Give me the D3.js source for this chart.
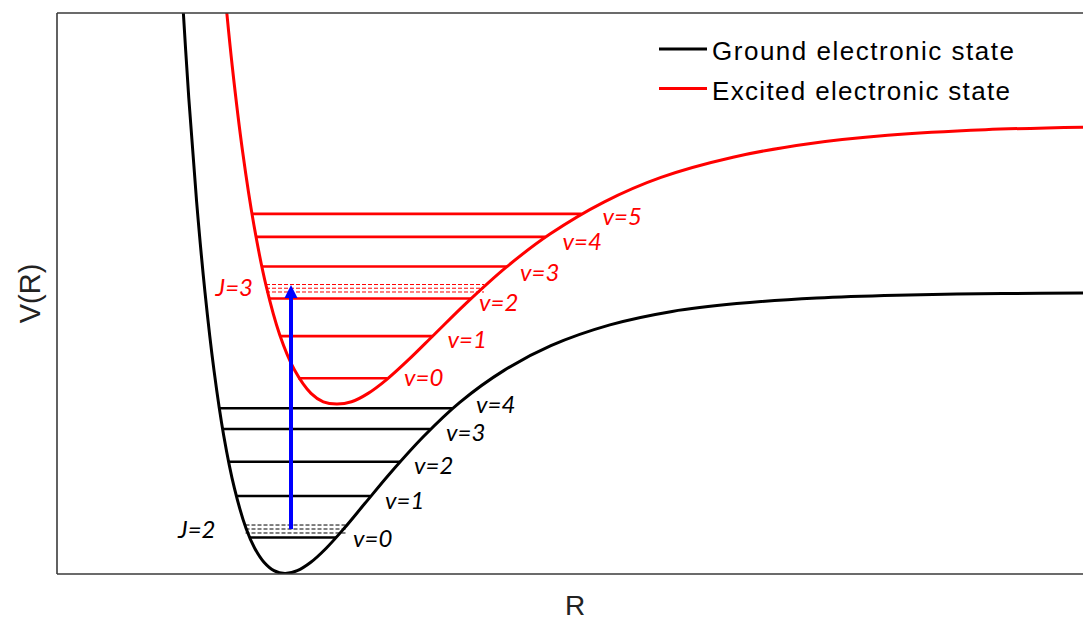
<!DOCTYPE html>
<html><head><meta charset="utf-8">
<script src="https://cdn.jsdelivr.net/npm/d3@7"></script>
<style>
html,body{margin:0;padding:0;background:#fff;}
svg{display:block;}
</style>
</head><body>
<svg id="chart" width="1083" height="622"></svg>
<script>
// ---- data (R and V in arbitrary units) ----
const groundR = [1.245, 1.318, 1.396, 1.480, 1.570, 1.667, 1.774, 1.891, 1.977, 2.070, 2.170, 2.280, 2.402, 2.538, 2.692, 2.870, 3.080, 3.338, 3.670, 4.028, 4.471, 4.939, 5.529, 6.151, 6.797, 7.598, 8.398, 9.456, 10.40];
const groundV = [10.54, 8.48, 6.64, 5.02, 3.63, 2.47, 1.53, 0.81, 0.46, 0.21, 0.06, 0.01, 0.06, 0.21, 0.46, 0.81, 1.26, 1.81, 2.46, 3.06, 3.63, 4.07, 4.44, 4.68, 4.82, 4.92, 4.97, 5.00, 5.01];

const excitedR = [1.674, 1.752, 1.856, 1.969, 2.092, 2.226, 2.374, 2.540, 2.663, 2.797, 2.945, 3.111, 3.299, 3.516, 3.773, 4.088, 4.493, 4.930, 5.469, 6.040, 6.760, 7.519, 8.307, 9.283, 10.40];
const excitedV = [10.45, 9.06, 7.53, 6.22, 5.13, 4.27, 3.64, 3.22, 3.07, 3.03, 3.07, 3.22, 3.47, 3.82, 4.27, 4.82, 5.47, 6.06, 6.63, 7.07, 7.43, 7.67, 7.82, 7.92, 7.97];

const groundLevelV  = [0.65, 1.39, 2.00, 2.585, 2.955];
const groundLevelR0 = [1.927, 1.795, 1.72, 1.66, 1.623];
const groundLevelR1 = [2.79, 3.13, 3.43, 3.73, 3.96];
const groundLabels  = ["v=0", "v=1", "v=2", "v=3", "v=4"];

const excitedLevelV  = [3.49, 4.24, 4.91, 5.48, 6.01, 6.42];
const excitedLevelR0 = [2.41, 2.232, 2.12, 2.045, 1.985, 1.945];
const excitedLevelR1 = [3.30, 3.755, 4.14, 4.50, 4.885, 5.245];
const excitedLabels  = ["v=0", "v=1", "v=2", "v=3", "v=4", "v=5"];

const groundRotV = [0.731, 0.802, 0.873];
const groundRotR = [1.885, 2.885];
const excitedRotV = [5.027, 5.094, 5.16];
const excitedRotR = [2.09, 4.27];
const rotLabels = ["J=2", "J=3"];

const arrowR = 2.34;
const arrowV = [0.80, 5.15];

const legendLabels = ["Ground electronic state", "Excited electronic state"];
const axisLabels = ["R", "V(R)"];

// ---- layout ----
const mLeft = 57, mTop = 13, mBottom = 574, mRight = 1083;
const x = d3.scaleLinear().domain([0, 10.26]).range([mLeft, mRight]);
const y = d3.scaleLinear().domain([0, 10]).range([mBottom, mTop]);
const svg = d3.select("#chart");
const BLACK = "#000", RED = "#ff0000", BLUE = "#0000ff";

svg.append("defs").append("clipPath").attr("id", "clip")
  .append("rect").attr("x", mLeft).attr("y", mTop).attr("width", mRight - mLeft + 20).attr("height", mBottom - mTop);

const plot = svg.append("g").attr("clip-path", "url(#clip)");
const line = d3.line().x(d => x(d[0])).y(d => y(d[1])).curve(d3.curveCatmullRom.alpha(0.5));

function levels(V, R0, R1, color) {
  plot.selectAll(null).data(V).enter().append("line")
    .attr("x1", (d, i) => x(R0[i])).attr("x2", (d, i) => x(R1[i]))
    .attr("y1", d => y(d)).attr("y2", d => y(d))
    .attr("stroke", color).attr("stroke-width", 2.6);
}
levels(groundLevelV, groundLevelR0, groundLevelR1, BLACK);
levels(excitedLevelV, excitedLevelR0, excitedLevelR1, RED);

function rot(V, R, color) {
  plot.selectAll(null).data(V).enter().append("line")
    .attr("x1", x(R[0])).attr("x2", x(R[1]))
    .attr("y1", d => y(d)).attr("y2", d => y(d))
    .attr("stroke", color).attr("stroke-width", 1).attr("stroke-dasharray", "4,2");
}
rot(groundRotV, groundRotR, BLACK);
rot(excitedRotV, excitedRotR, RED);

plot.append("path").datum(groundR.map((r, i) => [r, groundV[i]]))
  .attr("d", line).attr("fill", "none").attr("stroke", BLACK).attr("stroke-width", 3);
plot.append("path").datum(excitedR.map((r, i) => [r, excitedV[i]]))
  .attr("d", line).attr("fill", "none").attr("stroke", RED).attr("stroke-width", 3);

// arrow
const ax = x(arrowR), ay0 = y(arrowV[0]), ay1 = y(arrowV[1]);
plot.append("line").attr("x1", ax).attr("x2", ax).attr("y1", ay0).attr("y2", ay1 + 10)
  .attr("stroke", BLUE).attr("stroke-width", 4);
plot.append("path").attr("d", `M${ax},${ay1} L${ax - 6.5},${ay1 + 13} L${ax + 6.5},${ay1 + 13} Z`).attr("fill", BLUE);

// frame
const frame = svg.append("g").attr("stroke", "#3a3a3a").attr("stroke-width", 1.6);
frame.append("line").attr("x1", mLeft).attr("x2", mRight + 5).attr("y1", mTop).attr("y2", mTop);
frame.append("line").attr("x1", mLeft).attr("x2", mRight + 5).attr("y1", mBottom).attr("y2", mBottom);
frame.append("line").attr("x1", mLeft).attr("x2", mLeft).attr("y1", mTop).attr("y2", mBottom);

// level labels
const lblFont = "Lato, 'Open Sans', sans-serif";
const gdx = [17, 15, 14, 16, 23], gdy = [9.5, 13, 12, 12, 5];
const edx = [17, 15, 8, 13, 17, 21], edy = [8, 12, 12.5, 14, 13, 11];
svg.selectAll(null).data(groundLabels).enter().append("text")
  .attr("x", (d, i) => x(groundLevelR1[i]) + gdx[i]).attr("y", (d, i) => y(groundLevelV[i]) + gdy[i])
  .text(d => d).attr("font-family", lblFont).attr("font-style", "italic").attr("font-size", 24).attr("fill", BLACK);
svg.selectAll(null).data(excitedLabels).enter().append("text")
  .attr("x", (d, i) => x(excitedLevelR1[i]) + edx[i]).attr("y", (d, i) => y(excitedLevelV[i]) + edy[i])
  .text(d => d).attr("font-family", lblFont).attr("font-style", "italic").attr("font-size", 24).attr("fill", RED);
svg.append("text").attr("x", x(groundRotR[0]) - 30).attr("y", y(groundRotV[1]) + 8.5).attr("text-anchor", "end")
  .text(rotLabels[0]).attr("font-family", lblFont).attr("font-style", "italic").attr("font-size", 24).attr("fill", BLACK);
svg.append("text").attr("x", x(excitedRotR[0]) - 13).attr("y", y(excitedRotV[1]) + 8)
  .attr("text-anchor", "end")
  .text(rotLabels[1]).attr("font-family", lblFont).attr("font-style", "italic").attr("font-size", 24).attr("fill", RED);

// legend
const lg = svg.append("g");
[BLACK, RED].forEach((c, i) => {
  const ly = 49 + i * 39.5;
  lg.append("line").attr("x1", 659).attr("x2", 707).attr("y1", ly).attr("y2", ly).attr("stroke", c).attr("stroke-width", 3);
  lg.append("text").attr("x", 712).attr("y", ly + 11).text(legendLabels[i])
    .attr("font-family", "Liberation Sans, Arial, sans-serif").attr("font-size", 26).attr("fill", "#000")
    .attr("textLength", i === 0 ? 302 : 298).attr("lengthAdjust", "spacing");
});

// axis labels
svg.append("text").attr("x", (mLeft + mRight) / 2 + 5).attr("y", 615).attr("text-anchor", "middle")
  .text(axisLabels[0]).attr("font-family", "Liberation Sans, Arial, sans-serif").attr("font-size", 28).attr("fill", "#222");
svg.append("text").attr("transform", `translate(40,${(mTop + mBottom) / 2}) rotate(-90)`).attr("text-anchor", "middle")
  .text(axisLabels[1]).attr("font-family", "Liberation Sans, Arial, sans-serif").attr("font-size", 29).attr("fill", "#222");
</script>
</body></html>
